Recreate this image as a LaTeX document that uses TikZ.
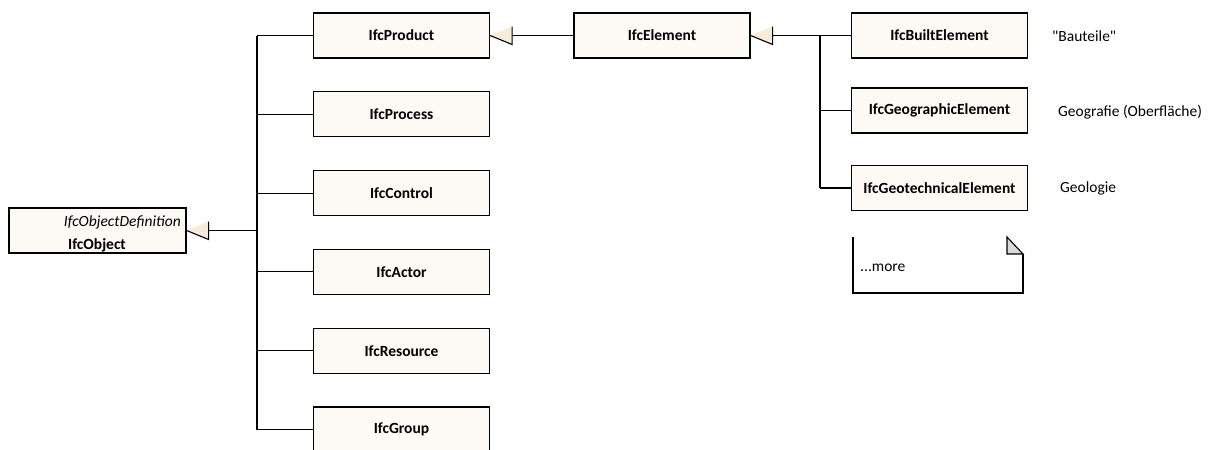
\documentclass[tikz,border=0pt]{standalone}
\usepackage{fontspec}
\setmainfont{Carlito}[Ligatures=TeXOff]
\usetikzlibrary{positioning}
\definecolor{classfill}{HTML}{FDF9F4}
\definecolor{genfill}{HTML}{F6ECD9}
\definecolor{notefold}{HTML}{D9D9D9}

\tikzset{
  ifcclass/.style={draw, line width=1.2pt, fill=classfill, minimum width=176pt,
    minimum height=45pt, inner sep=0pt, font=\bfseries\fontsize{15.5}{18}\selectfont},
  remark/.style={anchor=west, inner sep=0pt, font=\fontsize{15.5}{18}\selectfont},
  link/.style={line width=1.1pt},
}

% open generalisation triangle on the east side of a class
\newcommand{\gentri}[1]{%
  \fill[genfill] (#1.east) -- ++(22,-9) -- ++(0,18) -- cycle;
  \draw[link] (#1.east) -- ++(22,9) -- ++(0,-18);
  \coordinate (#1-tip) at ([xshift=22pt]#1.east);
}

\begin{document}
\begin{tikzpicture}[x=1pt,y=-1pt]
\useasboundingbox (0,0) rectangle (1211,450);

% IfcObject
\node[ifcclass, minimum width=177pt] (obj) at (97.5,230.5) {};
\node[anchor=base east, inner sep=0pt, font=\itshape\fontsize{15.5}{18}\selectfont] (objdef) at (181,226) {IfcObjectDefinition};
\node[anchor=base west, inner sep=0pt, font=\bfseries\fontsize{15.5}{18}\selectfont] (objname) at (68,249) {IfcObject};

% subtypes of IfcObject
\foreach \name [count=\i from 0] in {Product,Process,Control,Actor,Resource,Group}
  \node[ifcclass] (\name) at (401.5,{35.5+78.8*\i}) {Ifc\name};

% IfcElement and its subtypes
\node[ifcclass] (Element) at (662,35.5) {IfcElement};
\node[ifcclass] (BuiltElement) at (939.5,35.5) {IfcBuiltElement};
\node[ifcclass] (GeographicElement) at (939.5,110.5) {IfcGeographicElement};
\node[ifcclass] (GeotechnicalElement) at (939.5,188) {IfcGeotechnicalElement};

\gentri{obj}
\gentri{Product}
\gentri{Element}

% tree lines
\coordinate (objbus) at (257,230.5);
\draw[link] (obj-tip) -- (objbus);
\draw[link] (objbus |- Product) -- (objbus |- Group);
\foreach \name in {Product,Process,Control,Actor,Resource,Group}
  \draw[link] (objbus |- \name) -- (\name.west);

\draw[link] (Product-tip) -- (Element.west);
\draw[link] (Element-tip) -- (BuiltElement.west);
\coordinate (elembus) at (820,35.5);
\draw[link] (elembus) -- (elembus |- GeotechnicalElement);
\foreach \name in {GeographicElement,GeotechnicalElement}
  \draw[link] (elembus |- \name) -- (\name.west);

% remarks
\node[remark] (bauteile) at (1052,36) {"Bauteile"};
\node[remark] (geografie) at (1058,112) {Geografie (Oberfläche)};
\node[remark] (geologie) at (1060,188) {Geologie};

% note
\draw[link] (853,237) -- (853,293) -- (1023,293) -- (1023,254);
\filldraw[link, fill=notefold] (1007,237) -- (1007,254) -- (1023,254) -- cycle;
\node[remark] (more) at (860,268) {...more};

\end{tikzpicture}
\end{document}
